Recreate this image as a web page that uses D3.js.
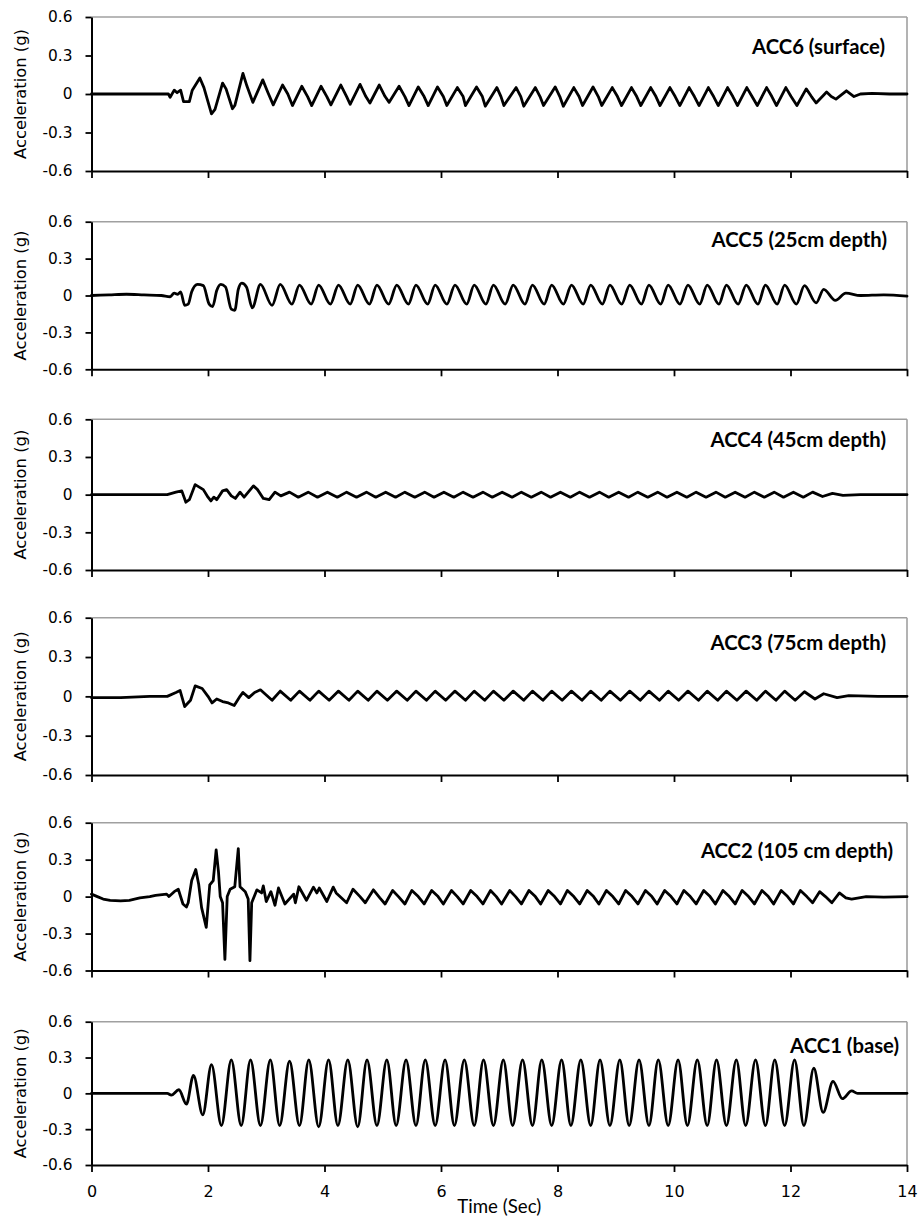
<!DOCTYPE html>
<html><head><meta charset="utf-8">
<script src="https://cdn.jsdelivr.net/npm/d3@7/dist/d3.min.js"></script>
<style>body{margin:0;background:#fff}</style>
</head><body>
<svg id="c" width="919" height="1218"></svg>
<script>
const labels = ["ACC6 (surface)","ACC5 (25cm depth)","ACC4 (45cm depth)","ACC3 (75cm depth)","ACC2 (105 cm depth)","ACC1 (base)"];
const xTicks = [0,2,4,6,8,10,12,14];
const yTicks = [-0.6,-0.3,0,0.3,0.6];
const yTickLabels = ["-0.6","-0.3","0","0.3","0.6"];

const acc6 = [[0,0],[0.5,0],[1.0,0],[1.32,0],[1.35,-0.025],[1.42,0.03],[1.47,0.01],[1.53,0.03],[1.58,-0.06],[1.68,-0.06],[1.73,0.03],[1.86,0.125],[1.93,0.05],[2.06,-0.155],[2.12,-0.12],[2.25,0.085],[2.31,0.04],[2.42,-0.115],[2.46,-0.09],[2.60,0.16],[2.67,0.06],[2.77,-0.065],[2.94,0.11],[3.03,0.01],[3.12,-0.085],[3.28,0.07],[3.37,0.0],[3.45,-0.09],
[3.61,0.06],[3.71,-0.02],[3.78,-0.09],[3.94,0.06],[4.04,-0.02],[4.11,-0.085],[4.28,0.07],[4.38,-0.02],[4.44,-0.08],[4.61,0.075],[4.71,-0.02],[4.78,-0.07],[4.94,0.07],[5.04,-0.02],[5.11,-0.065],[5.28,0.06],[5.38,-0.02],[5.45,-0.09],[5.61,0.055],[5.71,-0.02],[5.78,-0.09],[5.94,0.055],[6.04,-0.02],[6.10,-0.09],[6.28,0.05],[6.38,-0.02],[6.42,-0.09],[6.61,0.055],[6.71,-0.02],[6.76,-0.095],[6.96,0.05],[7.03,-0.02],[7.08,-0.09],[7.29,0.05],[7.37,-0.02],[7.42,-0.095],[7.62,0.05],[7.70,-0.02],[7.76,-0.09],[7.96,0.055],[8.04,-0.02],[8.10,-0.095],[8.28,0.05],[8.37,-0.02],[8.43,-0.09],[8.61,0.055],[8.70,-0.02],[8.76,-0.09],[8.94,0.05],[9.03,-0.02],[9.10,-0.09],[9.27,0.05],[9.36,-0.02],[9.43,-0.09],[9.60,0.05],[9.69,-0.02],[9.76,-0.09],[9.93,0.05],[10.02,-0.02],[10.10,-0.09],[10.26,0.05],[10.35,-0.02],[10.43,-0.09],[10.59,0.05],[10.68,-0.02],[10.76,-0.09],[10.92,0.05],[11.01,-0.02],[11.09,-0.09],[11.25,0.05],[11.34,-0.02],[11.43,-0.09],[11.59,0.05],[11.68,-0.02],[11.76,-0.09],[11.92,0.05],[12.01,-0.02],[12.11,-0.09],[12.27,0.04],[12.36,-0.02],[12.44,-0.07],[12.62,0.015],[12.70,-0.02],[12.78,-0.04],[12.96,0.025],[13.09,-0.02],[13.2,0],[13.4,0.005],[13.7,0],[14,0]];

const acc5 = [[0,0],[0.3,0.005],[0.6,0.01],[0.9,0.005],[1.2,0],[1.35,-0.01],[1.42,0.02],[1.48,0.01],[1.53,0.03],[1.60,-0.08],[1.66,-0.07],[1.72,0.03],[1.82,0.09],[1.92,0.08],[2.02,-0.07],[2.08,-0.09],[2.15,0.04],[2.22,0.09],[2.30,0.07],[2.40,-0.11],[2.46,-0.12],[2.52,0.05],[2.58,0.10],[2.66,0.07],[2.76,-0.10],[2.90,0.09],[3.10,-0.08],[3.24,0.09],[3.44,-0.07],[3.57,0.085],[3.77,-0.07],[3.90,0.085],[4.10,-0.07],[4.24,0.085],[4.44,-0.07],[4.57,0.085],[4.77,-0.07],[4.90,0.085],[5.10,-0.07],[5.24,0.085],[5.44,-0.07],[5.57,0.085],[5.77,-0.07],[5.90,0.085],[6.10,-0.07],[6.24,0.085],[6.44,-0.07],[6.57,0.085],[6.77,-0.07],[6.90,0.085],[7.10,-0.07],[7.24,0.085],[7.44,-0.07],[7.57,0.085],[7.77,-0.07],[7.90,0.085],[8.10,-0.07],[8.24,0.085],[8.44,-0.07],[8.57,0.085],[8.77,-0.07],[8.90,0.085],[9.10,-0.07],[9.24,0.085],[9.44,-0.07],[9.57,0.085],[9.77,-0.07],[9.90,0.085],[10.10,-0.07],[10.24,0.085],[10.44,-0.07],[10.57,0.085],[10.77,-0.07],[10.90,0.085],[11.10,-0.07],[11.24,0.085],[11.44,-0.07],[11.57,0.085],[11.77,-0.07],[11.90,0.085],[12.10,-0.07],[12.24,0.08],[12.44,-0.06],[12.57,0.05],[12.77,-0.04],[12.95,0.02],[13.2,0],[13.6,0.005],[14,-0.005]];

const acc4 = [[0,0],[0.5,0],[1.0,0],[1.3,0],[1.45,0.02],[1.55,0.03],[1.62,-0.06],[1.68,-0.04],[1.78,0.08],[1.85,0.06],[1.92,0.04],[2.0,-0.02],[2.05,-0.05],[2.10,-0.02],[2.15,-0.04],[2.25,0.03],[2.32,0.04],[2.40,-0.01],[2.47,-0.03],[2.55,0.02],[2.62,-0.02],[2.78,0.07],[2.85,0.04],[2.95,-0.03],[3.05,-0.04],[3.15,0.02],[3.25,-0.01],[3.40,0.02],[3.55,-0.02],[3.72,0.02],[3.88,-0.02],[4.05,0.02],[4.22,-0.02],[4.38,0.02],[4.55,-0.02],[4.72,0.02],[4.88,-0.02],[5.05,0.02],[5.22,-0.02],[5.38,0.02],[5.55,-0.02],[5.72,0.02],[5.88,-0.02],[6.05,0.02],[6.22,-0.02],[6.38,0.02],[6.55,-0.02],[6.72,0.02],[6.88,-0.02],[7.05,0.02],[7.22,-0.02],[7.38,0.02],[7.55,-0.02],[7.72,0.02],[7.88,-0.02],[8.05,0.02],[8.22,-0.02],[8.38,0.02],[8.55,-0.02],[8.72,0.02],[8.88,-0.02],[9.05,0.02],[9.22,-0.02],[9.38,0.02],[9.55,-0.02],[9.72,0.02],[9.88,-0.02],[10.05,0.02],[10.22,-0.02],[10.38,0.02],[10.55,-0.02],[10.72,0.02],[10.88,-0.02],[11.05,0.02],[11.22,-0.02],[11.38,0.02],[11.55,-0.02],[11.72,0.02],[11.88,-0.02],[12.05,0.02],[12.22,-0.02],[12.38,0.02],[12.55,-0.015],[12.72,0.01],[12.9,-0.005],[13.2,0],[14,0]];

const acc3 = [[0,-0.01],[0.5,-0.01],[1.0,0],[1.3,0],[1.45,0.03],[1.52,0.045],[1.60,-0.078],[1.70,-0.03],[1.78,0.08],[1.90,0.06],[2.0,0],[2.07,-0.05],[2.15,-0.02],[2.25,-0.04],[2.35,-0.05],[2.45,-0.07],[2.55,0],[2.60,0.03],[2.70,-0.01],[2.80,0.03],[2.90,0.05],[3.0,0.01],[3.10,-0.03],[3.24,0.04],[3.42,-0.03],[3.57,0.04],[3.75,-0.03],[3.90,0.04],[4.08,-0.03],[4.24,0.04],[4.42,-0.03],[4.57,0.04],[4.75,-0.03],[4.90,0.04],[5.08,-0.03],[5.24,0.04],[5.42,-0.03],[5.57,0.04],[5.75,-0.03],[5.90,0.04],[6.08,-0.03],[6.24,0.04],[6.42,-0.03],[6.57,0.04],[6.75,-0.03],[6.90,0.04],[7.08,-0.03],[7.24,0.04],[7.42,-0.03],[7.57,0.04],[7.75,-0.03],[7.90,0.04],[8.08,-0.03],[8.24,0.04],[8.42,-0.03],[8.57,0.04],[8.75,-0.03],[8.90,0.04],[9.08,-0.03],[9.24,0.04],[9.42,-0.03],[9.57,0.04],[9.75,-0.03],[9.90,0.04],[10.08,-0.03],[10.24,0.04],[10.42,-0.03],[10.57,0.04],[10.75,-0.03],[10.90,0.04],[11.08,-0.03],[11.24,0.04],[11.42,-0.03],[11.57,0.04],[11.75,-0.03],[11.90,0.04],[12.08,-0.03],[12.24,0.035],[12.42,-0.02],[12.57,0.02],[12.8,-0.01],[13.0,0.005],[13.5,0],[14,0]];

const acc2 = [[0,0.02],[0.1,0],[0.2,-0.02],[0.32,-0.03],[0.5,-0.035],[0.65,-0.03],[0.83,-0.01],[1.0,0],[1.1,0.01],[1.29,0.02],[1.33,0],[1.42,0.04],[1.49,0.06],[1.57,-0.06],[1.63,-0.085],[1.66,-0.05],[1.72,0.13],[1.79,0.22],[1.84,0.1],[1.89,-0.09],[1.97,-0.25],[2.03,0.095],[2.09,0.13],[2.14,0.38],[2.18,0.2],[2.21,0],[2.25,-0.05],[2.29,-0.51],[2.33,0],[2.38,0.06],[2.46,0.08],[2.52,0.39],[2.55,0.08],[2.64,0.04],[2.69,-0.02],[2.72,-0.52],[2.75,-0.05],[2.84,0.055],[2.92,0.03],[2.95,0.087],[3.0,-0.04],[3.08,0.04],[3.15,-0.07],[3.21,0.07],[3.32,-0.06],[3.47,0.02],[3.50,-0.05],[3.56,0.08],[3.69,-0.03],[3.81,0.077],[3.87,0.03],[3.91,0.07],[4.04,-0.04],[4.15,0.077],[4.20,0.03],[4.38,-0.05],[4.49,0.06],[4.61,0],[4.70,-0.05],[4.84,0.055],[4.95,-0.01],[5.04,-0.06],[5.17,0.05],[5.27,0],[5.38,-0.06],
[5.50,0.05],[5.61,0],[5.71,-0.06],[5.84,0.05],[5.95,0],[6.04,-0.06],[6.18,0.05],[6.28,0],[6.38,-0.06],[6.51,0.05],[6.62,0],[6.72,-0.06],[6.85,0.05],[6.95,0],[7.04,-0.06],[7.18,0.05],[7.28,0],[7.38,-0.06],[7.51,0.05],[7.62,0],[7.71,-0.06],[7.84,0.05],[7.95,0],[8.05,-0.06],[8.17,0.05],[8.28,0],[8.38,-0.06],[8.51,0.05],[8.62,0],[8.71,-0.06],[8.84,0.05],[8.95,0],[9.05,-0.06],[9.17,0.05],[9.28,0],[9.38,-0.06],[9.51,0.05],[9.62,0],[9.71,-0.06],[9.84,0.05],[9.95,0],[10.05,-0.06],[10.17,0.05],[10.28,0],[10.38,-0.06],[10.51,0.05],[10.62,0],[10.71,-0.06],[10.84,0.05],[10.95,0],[11.05,-0.06],[11.17,0.05],[11.28,0],[11.38,-0.06],[11.51,0.05],[11.62,0],[11.71,-0.06],[11.84,0.05],[11.95,0],[12.05,-0.06],[12.17,0.05],[12.28,0],[12.38,-0.05],[12.50,0.04],[12.60,0],[12.71,-0.05],[12.84,0.03],[12.95,-0.01],[13.05,-0.02],[13.3,0],[13.6,-0.005],[14,0]];

const acc1 = [[0,0],[0.5,0],[1.0,0],[1.30,0],[1.37,-0.015],[1.50,0.03],[1.63,-0.09],[1.75,0.15],[1.91,-0.18],[2.06,0.24],[2.23,-0.27],[2.40,0.28],[2.57,-0.27],[2.73,0.28],[2.90,-0.27],[3.07,0.28],[3.23,-0.27],[3.40,0.27],[3.57,-0.27],[3.73,0.28],[3.90,-0.28],[4.07,0.28],[4.23,-0.27],[4.40,0.28],[4.57,-0.28],[4.73,0.28],[4.90,-0.27],[5.07,0.28],[5.23,-0.27],[5.40,0.28],[5.57,-0.27],[5.73,0.28],[5.90,-0.27],[6.07,0.28],[6.23,-0.27],[6.40,0.28],[6.57,-0.27],[6.73,0.28],[6.90,-0.27],[7.07,0.28],[7.23,-0.27],[7.40,0.28],[7.57,-0.27],[7.73,0.28],[7.90,-0.27],[8.07,0.28],[8.23,-0.27],[8.40,0.28],[8.57,-0.27],[8.73,0.28],[8.90,-0.27],[9.07,0.28],[9.23,-0.27],[9.40,0.28],[9.57,-0.27],[9.73,0.28],[9.90,-0.27],[10.07,0.28],[10.23,-0.27],[10.40,0.28],[10.57,-0.27],[10.73,0.28],[10.90,-0.27],[11.07,0.28],[11.23,-0.27],[11.40,0.28],[11.57,-0.27],[11.73,0.28],[11.90,-0.27],[12.07,0.28],[12.23,-0.27],[12.40,0.21],[12.56,-0.16],[12.73,0.10],[12.89,-0.045],[13.05,0.02],[13.15,0],[13.5,0],[14,0]];

const series = [acc6, acc5, acc4, acc3, acc2, acc1];

// layout
const X0 = 91.5, X1 = 907;
const tops = [17, 221.7, 419.3, 617.7, 822.7, 1021.7];
const bots = [171, 369.3, 570, 775, 970.5, 1165];
const labelPos = [[885,54],[887,247],[886,447],[886,650],[893,858],[899,1053]];
const curves = [d3.curveLinear, d3.curveMonotoneX, d3.curveLinear, d3.curveLinear, d3.curveLinear, d3.curveMonotoneX];
const FONT = "'DejaVu Sans', Verdana, sans-serif";

const svg = d3.select("#c");
const x = d3.scaleLinear().domain([0,14]).range([X0, X1]);

// size fonts so text widths match the reference
function fitSize(str, family, weight, target) {
  const t = svg.append("text").attr("font-family", family).attr("font-weight", weight).attr("font-size", 20).text(str);
  const w = t.node().getComputedTextLength();
  t.remove();
  return w > 0 ? 20 * target / w : 15;
}
const tickFs = fitSize("-0.6", FONT, "normal", 30);
const titleFs = fitSize("Acceleration (g)", FONT, "normal", 130);
const labelFs = fitSize("ACC6 (surface)", "Lato", "bold", 133);
const timeFs = fitSize("Time (Sec)", "Lato", "normal", 84);

series.forEach((data, i) => {
  const y = d3.scaleLinear().domain([-0.6,0.6]).range([bots[i], tops[i]]);
  const g = svg.append("g");
  g.append("line").attr("x1",X0).attr("x2",X1).attr("y1",tops[i]).attr("y2",tops[i]).attr("stroke","#a0a0a0").attr("stroke-width",1.6);
  g.append("line").attr("x1",X1).attr("x2",X1).attr("y1",tops[i]).attr("y2",bots[i]).attr("stroke","#a0a0a0").attr("stroke-width",1.6);
  const ya = g.append("g").attr("transform",`translate(${X0},0)`)
    .call(d3.axisLeft(y).tickValues(yTicks).tickFormat((d,k)=>yTickLabels[k]).tickSize(6).tickPadding(13).tickSizeOuter(0));
  ya.attr("font-family", FONT).attr("font-size", tickFs);
  ya.select(".domain").attr("stroke","#000").attr("stroke-width",2);
  ya.selectAll(".tick line").attr("stroke","#000").attr("stroke-width",1.8);
  ya.selectAll(".tick text").attr("font-family",FONT).attr("font-size",tickFs).attr("fill","#000");
  const xa = g.append("g").attr("transform",`translate(0,${bots[i]})`)
    .call(d3.axisBottom(x).tickValues(xTicks).tickSize(7).tickSizeOuter(0).tickPadding(14)
      .tickFormat(i===5 ? d3.format("d") : ""));
  xa.attr("font-family", FONT).attr("font-size", tickFs*1.04);
  xa.select(".domain").attr("stroke","#000").attr("stroke-width",2);
  xa.selectAll(".tick line").attr("stroke","#000").attr("stroke-width",1.8);
  xa.selectAll(".tick text").attr("font-family",FONT).attr("font-size",tickFs*1.04).attr("fill","#000");
  g.append("text").attr("transform",`translate(25.5,${(tops[i]+bots[i])/2}) rotate(-90)`)
    .attr("text-anchor","middle").attr("font-family",FONT).attr("font-size",titleFs).attr("fill","#000")
    .text("Acceleration (g)");
  const line = d3.line().x(d=>x(d[0])).y(d=>y(d[1])).curve(curves[i]);
  g.append("path").datum(data).attr("d",line).attr("fill","none").attr("stroke","#000")
    .attr("stroke-width",2.8).attr("stroke-linejoin","round").attr("stroke-linecap","round");
  g.append("text").attr("x",labelPos[i][0]).attr("y",labelPos[i][1]).attr("text-anchor","end")
    .attr("font-family","Lato").attr("font-weight","bold").attr("font-size",labelFs).attr("fill","#000")
    .text(labels[i]);
});

svg.append("text").attr("x",(X0+X1)/2).attr("y",1213).attr("text-anchor","middle")
  .attr("font-family","Lato").attr("font-size",timeFs).attr("fill","#000").text("Time (Sec)");
</script>
</body></html>
